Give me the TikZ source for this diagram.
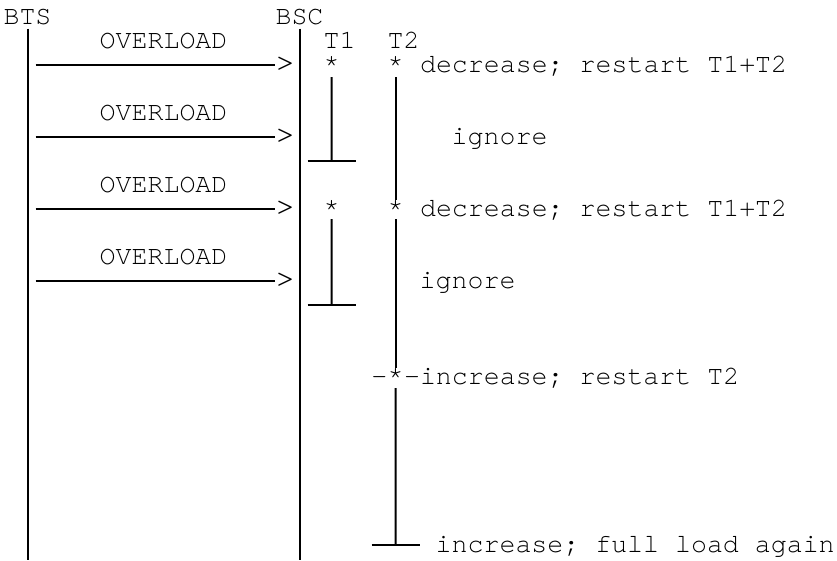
\documentclass[tikz,border=0pt]{standalone}
\usepackage{fontspec}
\setmonofont{texgyrecursor-regular.otf}
\usetikzlibrary{arrows.meta,positioning}

\begin{document}
\begin{tikzpicture}[
    x=1pt, y=-1pt,
    txt/.style={font=\ttfamily\fontsize{26.6}{24}\selectfont, inner sep=0pt, anchor=base west},
    head/.style={txt, anchor=base},
    tip/.style={txt, anchor=west, font=\ttfamily\fontsize{35}{24}\selectfont},
    life/.style={line width=2pt},
    msg/.style={line width=2pt},
    tbar/.style={line width=2pt}
]
\useasboundingbox (0,0) rectangle (837,560);

% --- Headers ---
\node[head] (bts) at (27.5,24) {BTS};
\node[head] (bsc) at (299.5,24) {BSC};
\node[txt] (t1) at (323.5,48) {T1};
\node[txt] (t2) at (387.5,48) {T2};

% --- Lifelines ---
\coordinate (btsend) at (27.5,560);
\coordinate (bscend) at (299.5,560);
\draw[life] ([yshift=-4pt]bts.south) -- (btsend);
\draw[life] ([yshift=-4pt]bsc.south) -- (bscend);

% --- OVERLOAD messages BTS -> BSC ---
\foreach \n/\r in {1/48, 2/120, 3/192, 4/264} {
  \node[txt] (ov\n) at (99.5,\r) {OVERLOAD};
  \node[tip] (gt\n) at (274.5,\r+17) {>};
  \coordinate (src\n) at (35.5,\r+17);
  \draw[msg] (src\n) -- (gt\n.west |- src\n);
}

% --- Timer starts ---
\node[txt] (s1a) at (323.5,72) {*};
\node[txt] (s2a) at (387.5,72) {*};
\node[txt] (s1b) at (323.5,216) {*};
\node[txt] (s2b) at (387.5,216) {*};
\node[txt] (s2c) at (387.5,384) {*};
\node[txt, base left=0pt of s2c] (dl) {-};

% --- Reactions ---
\node[txt, base right=16pt of s2a] (dec1) {decrease; restart T1+T2};
\node[txt] (ign1) at (451.5,144) {ignore};
\node[txt, base right=16pt of s2b] (dec2) {decrease; restart T1+T2};
\node[txt] (ign2) at (419.5,288) {ignore};
\node[txt, base right=0pt of s2c] (inc) {-increase; restart T2};
\node[txt] (full) at (435.5,552) {increase; full load again};

% --- T1 runs (stopped by bar) ---
\coordinate (e1) at (331.5,161);
\coordinate (e2) at (331.5,305);
\draw[life] ([yshift=-5pt]s1a.south) -- (e1);
\draw[tbar] ([xshift=-24pt]e1) -- ([xshift=24pt]e1);
\draw[life] ([yshift=-3pt]s1b.south) -- (e2);
\draw[tbar] ([xshift=-24pt]e2) -- ([xshift=24pt]e2);

% --- T2 runs ---
\coordinate (e3) at (395.5,545);
\draw[life] ([yshift=-5pt]s2a.south) -- (s2b.north);
\draw[life] ([yshift=-3pt]s2b.south) -- (s2c.north);
\draw[life] ([yshift=-4pt]s2c.south) -- (e3);
\draw[tbar] ([xshift=-24pt]e3) -- ([xshift=24pt]e3);
\end{tikzpicture}
\end{document}
